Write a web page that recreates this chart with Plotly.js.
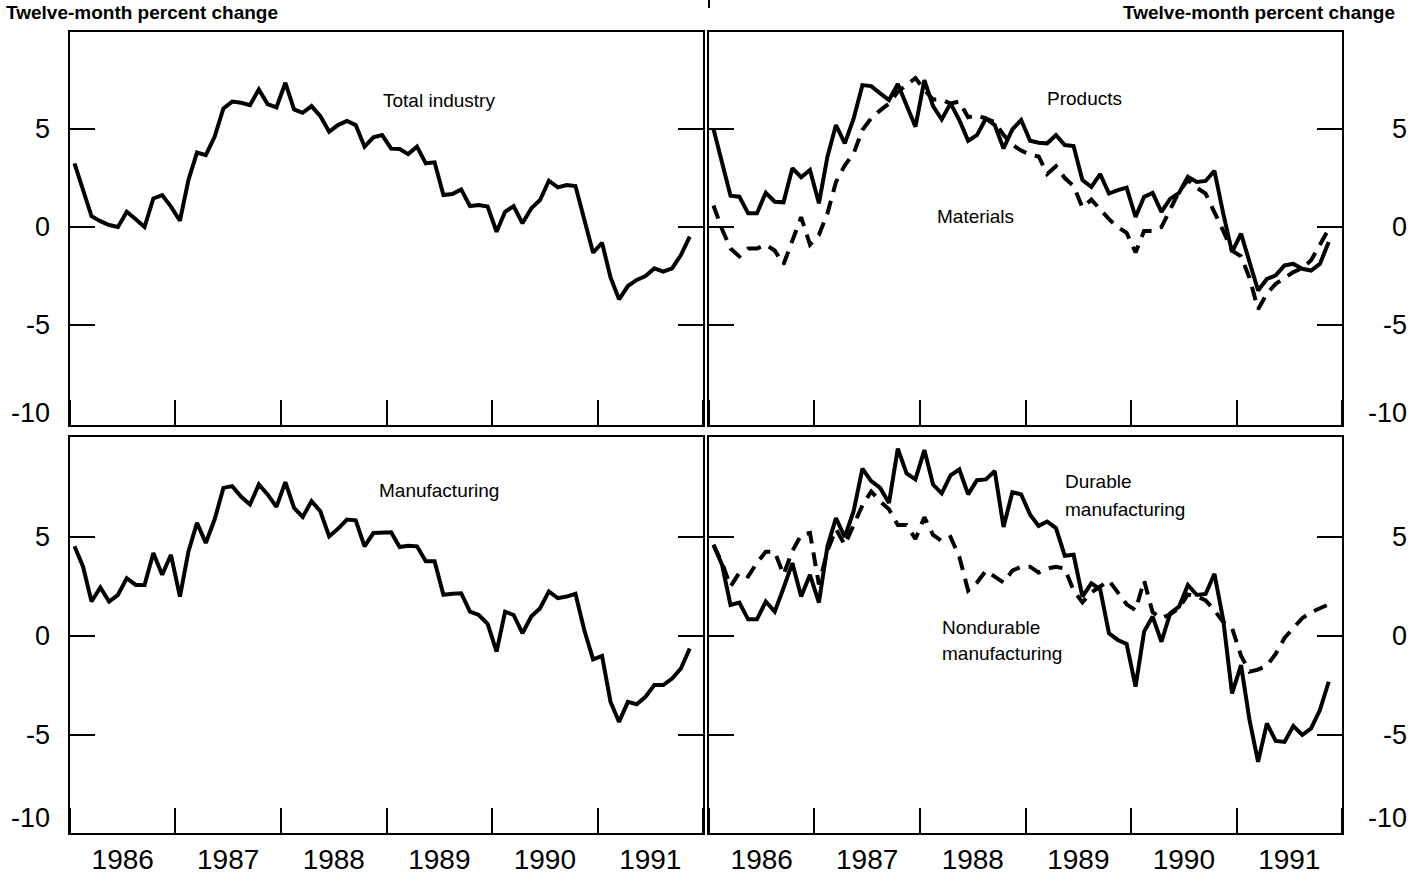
<!DOCTYPE html>
<html>
<head>
<meta charset="utf-8">
<script src="https://cdn.plot.ly/plotly-3.0.1.min.js"></script>
<style>
  html, body { margin: 0; padding: 0; background: #fff; }
  #chart { width: 1419px; height: 881px; }
</style>
</head>
<body>
<div id="chart"></div>
<script>
// ---- Data (twelve-month percent change, monthly Jan 1986 – Nov 1991) ----
const startYear = 1986;
const monthCount = 71;
const months = [];
for (let k = 0; k < monthCount; k++) {
  const yr = startYear + Math.floor(k / 12);
  const mo = (k % 12) + 1;
  months.push(yr + '-' + String(mo).padStart(2, '0') + '-01');
}

const totalIndustry = [3.25,1.9,0.55,0.3,0.1,0.0,0.78,0.4,0.0,1.46,1.63,1.04,0.32,2.4,3.8,3.67,4.6,6.05,6.4,6.34,6.22,7.02,6.27,6.1,7.36,6.0,5.83,6.17,5.66,4.86,5.2,5.41,5.2,4.1,4.58,4.69,4.0,3.98,3.72,4.1,3.25,3.3,1.63,1.68,1.92,1.07,1.12,1.04,-0.24,0.78,1.07,0.19,0.95,1.38,2.36,2.02,2.14,2.09,0.36,-1.31,-0.8,-2.57,-3.69,-3.01,-2.7,-2.5,-2.11,-2.28,-2.11,-1.43,-0.49];

const products = [5.0,3.3,1.6,1.55,0.7,0.7,1.75,1.29,1.26,3.0,2.54,2.91,1.21,3.59,5.2,4.27,5.53,7.24,7.19,6.82,6.48,7.3,6.22,5.12,7.5,6.17,5.49,6.31,5.46,4.4,4.69,5.54,5.2,4.01,4.98,5.46,4.4,4.3,4.27,4.69,4.18,4.13,2.39,2.05,2.7,1.71,1.88,2.01,0.51,1.54,1.74,0.77,1.45,1.74,2.56,2.3,2.35,2.87,0.68,-1.28,-0.34,-1.88,-3.24,-2.65,-2.47,-1.96,-1.88,-2.13,-2.22,-1.88,-0.77];

const materials = [1.1,-0.1,-1.1,-1.5,-1.1,-1.1,-0.9,-1.2,-1.9,-0.7,0.5,-0.9,-0.4,0.7,2.3,3.15,3.75,4.95,5.55,5.95,6.3,6.9,7.25,7.6,7.0,6.5,6.5,6.3,6.4,5.6,5.7,5.55,5.35,4.7,4.2,3.9,3.7,3.6,2.7,3.1,2.5,2.1,1.0,1.4,0.9,0.4,0.0,-0.3,-1.3,-0.2,-0.2,0.0,0.9,1.8,2.4,2.0,1.7,0.8,-0.2,-1.2,-1.5,-2.6,-4.2,-3.4,-2.9,-2.6,-2.3,-2.1,-1.7,-0.9,-0.1];

const manufacturing = [4.53,3.51,1.74,2.45,1.74,2.08,2.92,2.58,2.58,4.19,3.09,4.1,1.99,4.27,5.71,4.7,5.88,7.48,7.57,7.03,6.64,7.65,7.15,6.52,7.77,6.47,6.01,6.81,6.3,5.03,5.41,5.88,5.84,4.53,5.2,5.24,5.24,4.49,4.56,4.53,3.77,3.77,2.08,2.13,2.16,1.23,1.06,0.61,-0.79,1.23,1.06,0.14,0.98,1.4,2.25,1.91,1.99,2.13,0.3,-1.18,-1.01,-3.33,-4.34,-3.33,-3.45,-3.07,-2.48,-2.48,-2.15,-1.64,-0.63];

const durable = [4.61,3.6,1.57,1.69,0.84,0.84,1.74,1.23,2.42,3.68,1.99,3.09,1.69,4.53,5.96,5.0,6.3,8.45,7.82,7.48,6.72,9.46,8.21,7.91,9.39,7.65,7.2,8.11,8.41,7.15,7.87,7.91,8.33,5.51,7.26,7.15,6.13,5.56,5.78,5.45,4.05,4.1,1.99,2.66,2.36,0.13,-0.2,-0.4,-2.56,0.22,0.98,-0.29,1.15,1.48,2.58,2.07,2.12,3.14,0.81,-2.9,-1.47,-4.25,-6.36,-4.42,-5.3,-5.35,-4.55,-5.0,-4.67,-3.74,-2.31];

const nondurable = [4.6,3.7,2.5,3.2,3.0,3.7,4.25,4.25,3.1,4.3,5.1,5.2,2.6,4.3,5.4,4.6,5.6,6.6,7.3,6.8,6.4,5.6,5.6,4.9,6.0,5.1,4.8,5.0,4.0,2.3,2.7,3.3,3.0,2.7,3.3,3.5,3.5,3.2,3.4,3.5,3.4,2.3,1.7,2.2,2.5,2.8,2.2,1.6,1.3,2.8,1.2,0.9,1.1,1.4,2.1,2.0,1.8,1.3,0.7,0.4,-1.0,-1.8,-1.7,-1.5,-0.9,-0.1,0.4,0.9,1.2,1.4,1.6];

const yTickVals = [-5, 0, 5];
const yLabelVals = [5, 0, -5];
const yBottomLabel = '-10';
const axisTitle = 'Twelve-month percent change';

// ---- Figure ----
const W = 1419, H = 881;
const FONT = 'Liberation Sans, Arial, Helvetica, sans-serif';
const px = v => v / W;
const py = v => 1 - v / H;

function line(y, xa, ya, dashed) {
  return {
    type: 'scatter', mode: 'lines', x: months, y: y,
    xperiod: 'M1', xperiodalignment: 'middle',
    xaxis: xa, yaxis: ya, hoverinfo: 'skip',
    line: { color: '#000', width: 4, dash: dashed ? '14px,9px' : 'solid' }
  };
}

const traces = [
  line(totalIndustry, 'x', 'y', false),
  line(materials, 'x2', 'y2', true),
  line(products, 'x2', 'y2', false),
  line(manufacturing, 'x3', 'y3', false),
  line(nondurable, 'x4', 'y4', true),
  line(durable, 'x4', 'y4', false)
];

function xAxis(domain, anchor, showLabels) {
  return {
    domain: domain, anchor: anchor, type: 'date',
    range: ['1986-01-01', '1992-01-01'],
    tick0: '1986-01-01', dtick: 'M12', tickformat: '%Y',
    ticklabelmode: 'period', ticks: 'inside', ticklen: 25, tickwidth: 2, tickcolor: '#000',
    showline: true, linewidth: 2, linecolor: '#000', mirror: true,
    showgrid: false, zeroline: false, showticklabels: showLabels,
    ticklabelstandoff: 0,
    tickfont: { family: FONT, size: 28, color: '#000' }, fixedrange: true
  };
}
function yAxis(domain, anchor, range) {
  return {
    domain: domain, anchor: anchor, range: range,
    tickvals: yTickVals, ticks: 'inside', ticklen: 25, tickwidth: 2, tickcolor: '#000',
    showline: true, linewidth: 2, linecolor: '#000', mirror: 'allticks',
    showgrid: false, zeroline: false, showticklabels: false, fixedrange: true
  };
}

const dxL = [px(70), px(703)], dxR = [px(709), px(1342)];
const dyT = [py(425), py(32)], dyB = [py(833), py(437)];
const rT = [-10.1, 9.95], rB = [-9.95, 10.05];

const annotations = [];
function txt(text, x, y, xref, yref, xanchor, size, extra) {
  annotations.push(Object.assign({
    text: text, x: x, y: y, xref: xref, yref: yref, xanchor: xanchor, yanchor: 'middle',
    showarrow: false, font: { family: FONT, size: size, color: '#000' }
  }, extra || {}));
}
// y tick labels
[['y', 'left', 413], ['y2', 'right', 413], ['y3', 'left', 818], ['y4', 'right', 818]].forEach(([ya, side, yMinus10]) => {
  const x = side === 'left' ? px(52) : px(1409);
  yLabelVals.forEach(v => txt(String(v), x, v, 'paper', ya, 'right', 27));
  txt(yBottomLabel, x, py(yMinus10), 'paper', 'paper', 'right', 27);
});
// axis unit headers
const headFont = { family: FONT, size: 19, color: '#000', weight: 'bold' };
txt(axisTitle, px(4), py(12), 'paper', 'paper', 'left', 19, { font: headFont });
txt(axisTitle, px(1397), py(12), 'paper', 'paper', 'right', 19, { font: headFont });
// series labels
txt('Total industry', px(381), py(100), 'paper', 'paper', 'left', 19);
txt('Products', px(1045), py(98), 'paper', 'paper', 'left', 19);
txt('Materials', px(935), py(216), 'paper', 'paper', 'left', 19);
txt('Manufacturing', px(377), py(490), 'paper', 'paper', 'left', 19);
txt('Durable', px(1063), py(481), 'paper', 'paper', 'left', 19);
txt('manufacturing', px(1063), py(509), 'paper', 'paper', 'left', 19);
txt('Nondurable', px(940), py(627), 'paper', 'paper', 'left', 19);
txt('manufacturing', px(940), py(653), 'paper', 'paper', 'left', 19);

const layout = {
  width: W, height: H, margin: { l: 0, r: 0, t: 0, b: 0 },
  paper_bgcolor: '#fff', plot_bgcolor: '#fff', showlegend: false,
  xaxis: xAxis(dxL, 'y', false),
  yaxis: yAxis(dyT, 'x', rT),
  xaxis2: xAxis(dxR, 'y2', false),
  yaxis2: yAxis(dyT, 'x2', rT),
  xaxis3: xAxis(dxL, 'y3', true),
  yaxis3: yAxis(dyB, 'x3', rB),
  xaxis4: xAxis(dxR, 'y4', true),
  yaxis4: yAxis(dyB, 'x4', rB),
  annotations: annotations,
  shapes: [
    { type: 'line', xref: 'paper', yref: 'paper', x0: px(709), x1: px(709), y0: py(0), y1: py(8),
      line: { color: '#000', width: 2 } }
  ]
};

Plotly.newPlot('chart', traces, layout, { staticPlot: true, displayModeBar: false });
</script>
</body>
</html>
